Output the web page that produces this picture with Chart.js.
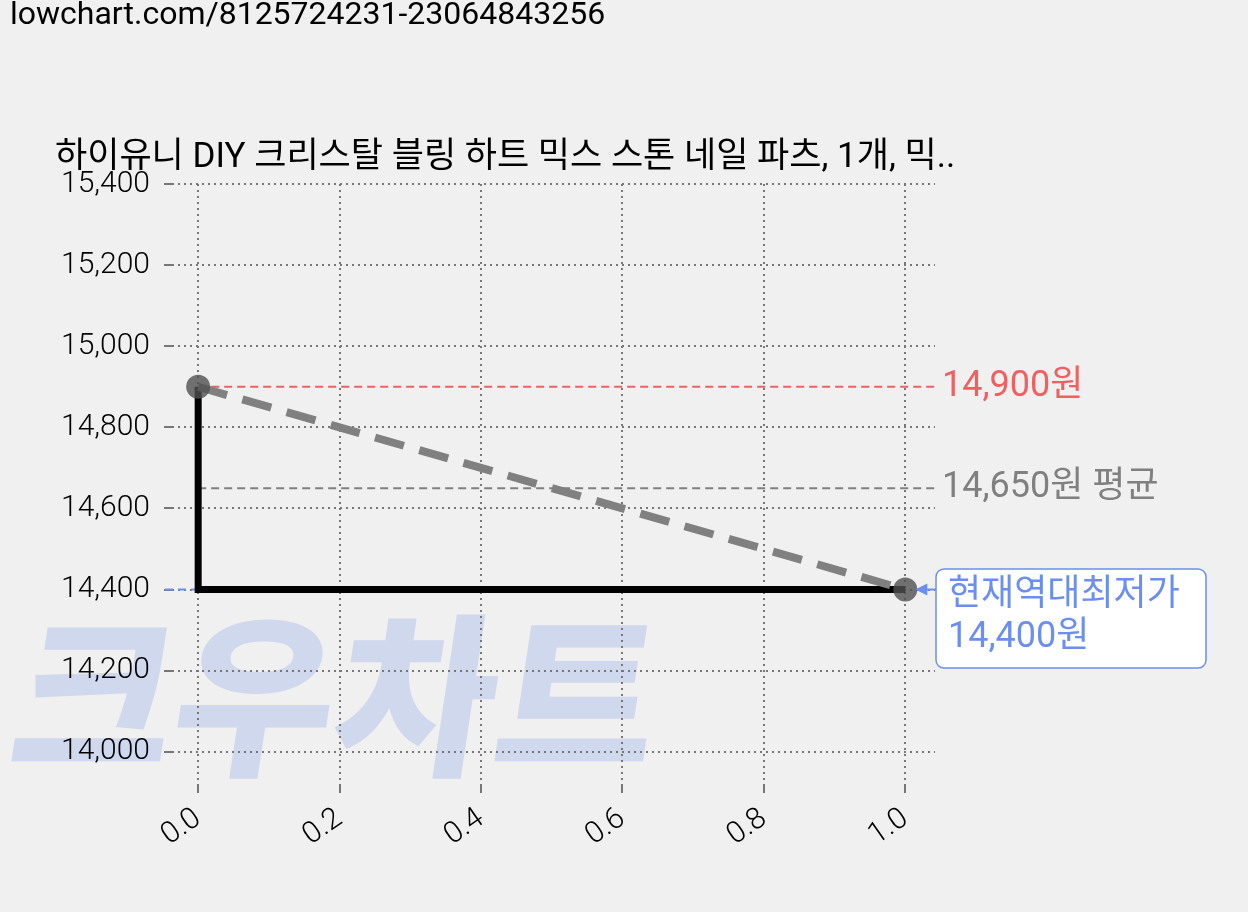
<!DOCTYPE html>
<html><head><meta charset="utf-8">
<script src="https://cdn.jsdelivr.net/npm/chart.js@4"></script>
<style>html,body{margin:0;padding:0;background:#f0f0f0}#c{display:block}</style>
</head><body>
<canvas id="c" width="1248" height="912"></canvas>
<script>
const stepX=[0,0,1];
const stepY=[14900,14400,14400];
const trendX=[0,1];
const trendY=[14900,14400];
const maxPrice=14900, avgPrice=14650, minPrice=14400;
const yTicks=[14000,14200,14400,14600,14800,15000,15200,15400];
const xTicks=[0,0.2,0.4,0.6,0.8,1.0];
const titleText='하이유니 DIY 크리스탈 블링 하트 믹스 스톤 네일 파츠, 1개, 믹..';
const urlText='lowchart.com/8125724231-23064843256';
const F='Roboto, "Noto Sans CJK KR", sans-serif';

const deco={id:'deco',
beforeDraw(c){const x=c.ctx;x.save();x.fillStyle='#f0f0f0';x.fillRect(0,0,c.width,c.height);
 x.save();x.translate(0,762);x.transform(1,0,-0.15,1,0,0);
 x.fillStyle='rgba(110,145,230,0.25)';x.font='900 175px "Noto Sans CJK KR"';x.textBaseline='alphabetic';x.fillText('크우차트',5,0);x.restore();
 x.fillStyle='#000';x.font='32px '+F;x.textBaseline='top';x.fillText(urlText,10,0);
 x.font='35px '+F;x.textBaseline='alphabetic';x.fillText(titleText,55,167);x.restore();},
beforeDatasetsDraw(c){const x=c.ctx,ys=c.scales.y,xs=c.scales.x;x.save();x.lineWidth=2;x.setLineDash([8,5]);
 const h=(v,col,x0,x1)=>{x.strokeStyle=col;x.beginPath();x.moveTo(x0,ys.getPixelForValue(v));x.lineTo(x1,ys.getPixelForValue(v));x.stroke();};
 h(maxPrice,'#f06060',xs.getPixelForValue(0),935);
 h(avgPrice,'#808080',xs.getPixelForValue(0),935);
 h(minPrice,'#6b8ff0',165,xs.getPixelForValue(1));
 x.restore();},
afterDraw(c){const x=c.ctx,ys=c.scales.y,xs=c.scales.x;x.save();x.font='36px '+F;x.textBaseline='middle';
 x.fillStyle='#f06060';x.fillText('14,900원',942,ys.getPixelForValue(maxPrice));
 x.fillStyle='#808080';x.fillText('14,650원 평균',942,ys.getPixelForValue(avgPrice));
 const bx=936,by=569,bw=270,bh=99;x.fillStyle='#fff';x.strokeStyle='#6b8ff0';x.lineWidth=1.5;
 x.beginPath();x.roundRect(bx,by,bw,bh,8);x.fill();x.stroke();
 x.fillStyle='#6b8ff0';x.fillText('현재역대최저가',948,596);x.fillText('14,400원',948,638);
 const py=ys.getPixelForValue(minPrice),px=xs.getPixelForValue(1);
 x.strokeStyle='#6b8ff0';x.lineWidth=2;x.beginPath();x.moveTo(bx,py);x.lineTo(px+12,py);x.stroke();
 x.beginPath();x.moveTo(px+10,py);x.lineTo(px+22,py-6);x.lineTo(px+22,py+6);x.closePath();x.fill();
 x.restore();}};

const grid={color:'#777',lineWidth:2,tickLength:8};
const border={display:false,dash:[2,4]};
new Chart(document.getElementById('c'),{type:'scatter',
data:{datasets:[
 {data:trendX.map((v,i)=>({x:v,y:trendY[i]})),showLine:true,borderColor:'#808080',borderWidth:8,borderDash:[30,16],pointRadius:12,pointBackgroundColor:'rgba(80,80,80,0.8)',pointBorderWidth:0},
 {data:stepX.map((v,i)=>({x:v,y:stepY[i]})),showLine:true,borderColor:'#000',borderWidth:7,pointRadius:0}
]},
options:{responsive:false,animation:false,layout:{padding:{left:0,top:184,right:313,bottom:0}},
 plugins:{legend:{display:false},tooltip:{enabled:false}},
 scales:{
 x:{type:'linear',min:-0.037,max:1.042,afterBuildTicks(s){s.ticks=xTicks.map(v=>({value:v}));},
  afterFit(s){s.height=127;},border,grid,
  ticks:{color:'#000',font:{size:30,family:F,weight:300},padding:8,maxRotation:35,minRotation:35,callback:v=>v.toFixed(1)}},
 y:{min:13918,max:15400,afterBuildTicks(s){s.ticks=yTicks.map(v=>({value:v}));},
  afterFit(s){s.width=172;},border,grid,
  ticks:{color:'#000',font:{size:30,family:F,weight:300},padding:14,callback:v=>v.toLocaleString('en-US')}}
 }},
plugins:[deco]});
</script></body></html>
